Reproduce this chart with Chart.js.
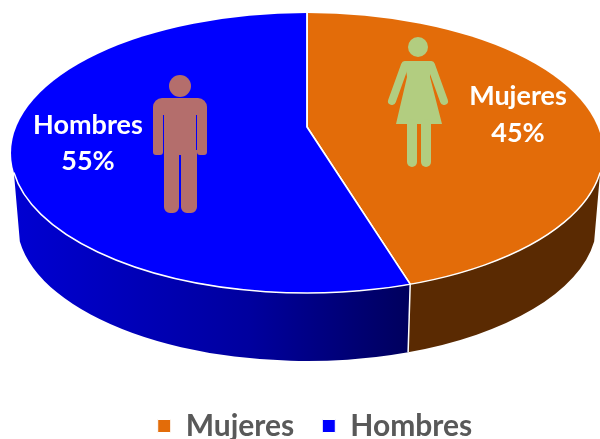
<!DOCTYPE html>
<html>
<head>
<meta charset="utf-8">
<script src="https://cdn.jsdelivr.net/npm/chart.js@4"></script>
<style>
  html, body { margin: 0; padding: 0; background: #fff; overflow: hidden; }
</style>
</head>
<body>
<canvas id="pieChart" width="600" height="439"></canvas>
<script>
const categories = ['Mujeres', 'Hombres'];
const percentages = [45, 55];
const sliceColors = ['#E36C09', '#0000FF'];

// top face and bottom rim of the fake 3D disc
const top3d = { x: 307, y: 153, rx: 296, ry: 140 };
const bottom3d = { x: 307, y: 222, rx: 290, ry: 139 };
const apex = { x: 307, y: 127 };
const tilt = 0.495;

// where a ray leaving the apex at this arc angle meets the top ellipse
function rimAngle(angle) {
  const dx = Math.cos(angle) / top3d.rx;
  const dy = Math.sin(angle) * tilt / top3d.ry;
  const ox = (apex.x - top3d.x) / top3d.rx;
  const oy = (apex.y - top3d.y) / top3d.ry;
  const a = dx * dx + dy * dy;
  const b = 2 * (ox * dx + oy * dy);
  const c = ox * ox + oy * oy - 1;
  const t = (-b + Math.sqrt(b * b - 4 * a * c)) / (2 * a);
  return Math.atan2(oy + dy * t, ox + dx * t);
}

function wall(ctx, from, to, fill) {
  ctx.beginPath();
  ctx.ellipse(top3d.x, top3d.y, top3d.rx, top3d.ry, 0, from, to);
  ctx.ellipse(bottom3d.x, bottom3d.y, bottom3d.rx, bottom3d.ry, 0, to, from, true);
  ctx.closePath();
  ctx.fillStyle = fill;
  ctx.fill();
}

function drawWoman(ctx) {
  ctx.fillStyle = ctx.strokeStyle = '#B2CD80';
  ctx.beginPath();
  ctx.arc(418, 47, 10, 0, Math.PI * 2);
  ctx.fill();
  ctx.beginPath();
  ctx.moveTo(405, 61);
  ctx.lineTo(431, 61);
  ctx.lineTo(430, 77);
  ctx.lineTo(442, 124);
  ctx.lineTo(396, 124);
  ctx.lineTo(407, 77);
  ctx.closePath();
  ctx.fill();
  ctx.lineCap = 'round';
  ctx.lineWidth = 8;
  [[405, 65, 392, 101], [431, 65, 444, 101]].forEach(l => {
    ctx.beginPath();
    ctx.moveTo(l[0], l[1]);
    ctx.lineTo(l[2], l[3]);
    ctx.stroke();
  });
  ctx.lineWidth = 10;
  [412, 426].forEach(x => {
    ctx.beginPath();
    ctx.moveTo(x, 124);
    ctx.lineTo(x, 162);
    ctx.stroke();
  });
}

function drawMan(ctx) {
  ctx.fillStyle = ctx.strokeStyle = '#B46E6C';
  ctx.beginPath();
  ctx.arc(180, 86, 11, 0, Math.PI * 2);
  ctx.fill();
  ctx.beginPath();
  ctx.roundRect(153, 98, 54, 30, [9, 9, 0, 0]);
  ctx.fill();
  ctx.fillStyle = '#0000FF';
  ctx.fillRect(163, 115, 1.5, 20);
  ctx.fillRect(195.5, 115, 1.5, 20);
  ctx.fillStyle = '#B46E6C';
  ctx.fillRect(164, 110, 32, 45);
  ctx.beginPath();
  ctx.roundRect(153, 125, 10, 30, [0, 0, 3, 3]);
  ctx.roundRect(197, 125, 10, 30, [0, 0, 3, 3]);
  ctx.fill();
  ctx.beginPath();
  ctx.roundRect(164, 150, 15, 63, [0, 0, 6, 6]);
  ctx.roundRect(181, 150, 16, 63, [0, 0, 6, 6]);
  ctx.fill();
}

const disc3d = {
  id: 'disc3d',
  beforeDatasetsDraw(chart) {
    const ctx = chart.ctx;
    const arcs = chart.getDatasetMeta(0).data;
    const split = rimAngle(arcs[0].endAngle);

    ctx.save();
    const navy = ctx.createLinearGradient(15, 0, 407, 0);
    navy.addColorStop(0, '#0000D2');
    navy.addColorStop(0.6, '#00009E');
    navy.addColorStop(1, '#00005E');
    wall(ctx, split, Math.PI - 0.14, navy);
    wall(ctx, 0.14, split, '#5A2A02');
    ctx.restore();

    // pie is stretched around the apex and cut by the top ellipse
    const k = 345 / arcs[0].outerRadius;
    ctx.save();
    ctx.beginPath();
    ctx.ellipse(top3d.x, top3d.y, top3d.rx, top3d.ry, 0, 0, Math.PI * 2);
    ctx.clip();
    ctx.translate(apex.x, apex.y);
    ctx.scale(k, k * tilt);
    ctx.translate(-arcs[0].x, -arcs[0].y);
  },
  afterDatasetsDraw(chart) {
    const ctx = chart.ctx;
    const arcs = chart.getDatasetMeta(0).data;
    ctx.restore();

    const split = rimAngle(arcs[0].endAngle);
    ctx.save();
    ctx.strokeStyle = '#fff';
    ctx.lineWidth = 1.5;
    ctx.beginPath();
    ctx.ellipse(top3d.x, top3d.y, top3d.rx, top3d.ry, 0, 0.14, Math.PI - 0.14);
    ctx.stroke();
    ctx.beginPath();
    ctx.moveTo(top3d.x + top3d.rx * Math.cos(split), top3d.y + top3d.ry * Math.sin(split));
    ctx.lineTo(bottom3d.x + bottom3d.rx * Math.cos(split), bottom3d.y + bottom3d.ry * Math.sin(split));
    ctx.stroke();

    drawWoman(ctx);
    drawMan(ctx);

    ctx.fillStyle = '#fff';
    ctx.font = 'bold 27px Lato';
    ctx.textAlign = 'center';
    ctx.textBaseline = 'middle';
    ctx.fillText(categories[0], 518, 96);
    ctx.fillText(percentages[0] + '%', 518, 133);
    ctx.fillText(categories[1], 88, 125);
    ctx.fillText(percentages[1] + '%', 88, 161);
    ctx.restore();
  }
};

new Chart(document.getElementById('pieChart'), {
  type: 'pie',
  data: {
    labels: categories,
    datasets: [{
      data: percentages,
      backgroundColor: sliceColors,
      borderColor: '#fff',
      borderWidth: 1
    }]
  },
  options: {
    responsive: false,
    animation: false,
    layout: { padding: { bottom: -12, left: 30 } },
    plugins: {
      tooltip: { enabled: false },
      legend: {
        position: 'bottom',
        labels: {
          boxWidth: 13,
          boxHeight: 13,
          padding: 28,
          color: '#595959',
          font: { family: 'Lato', weight: 'bold', size: 30 }
        }
      }
    }
  },
  plugins: [disc3d]
});
</script>
</body>
</html>
